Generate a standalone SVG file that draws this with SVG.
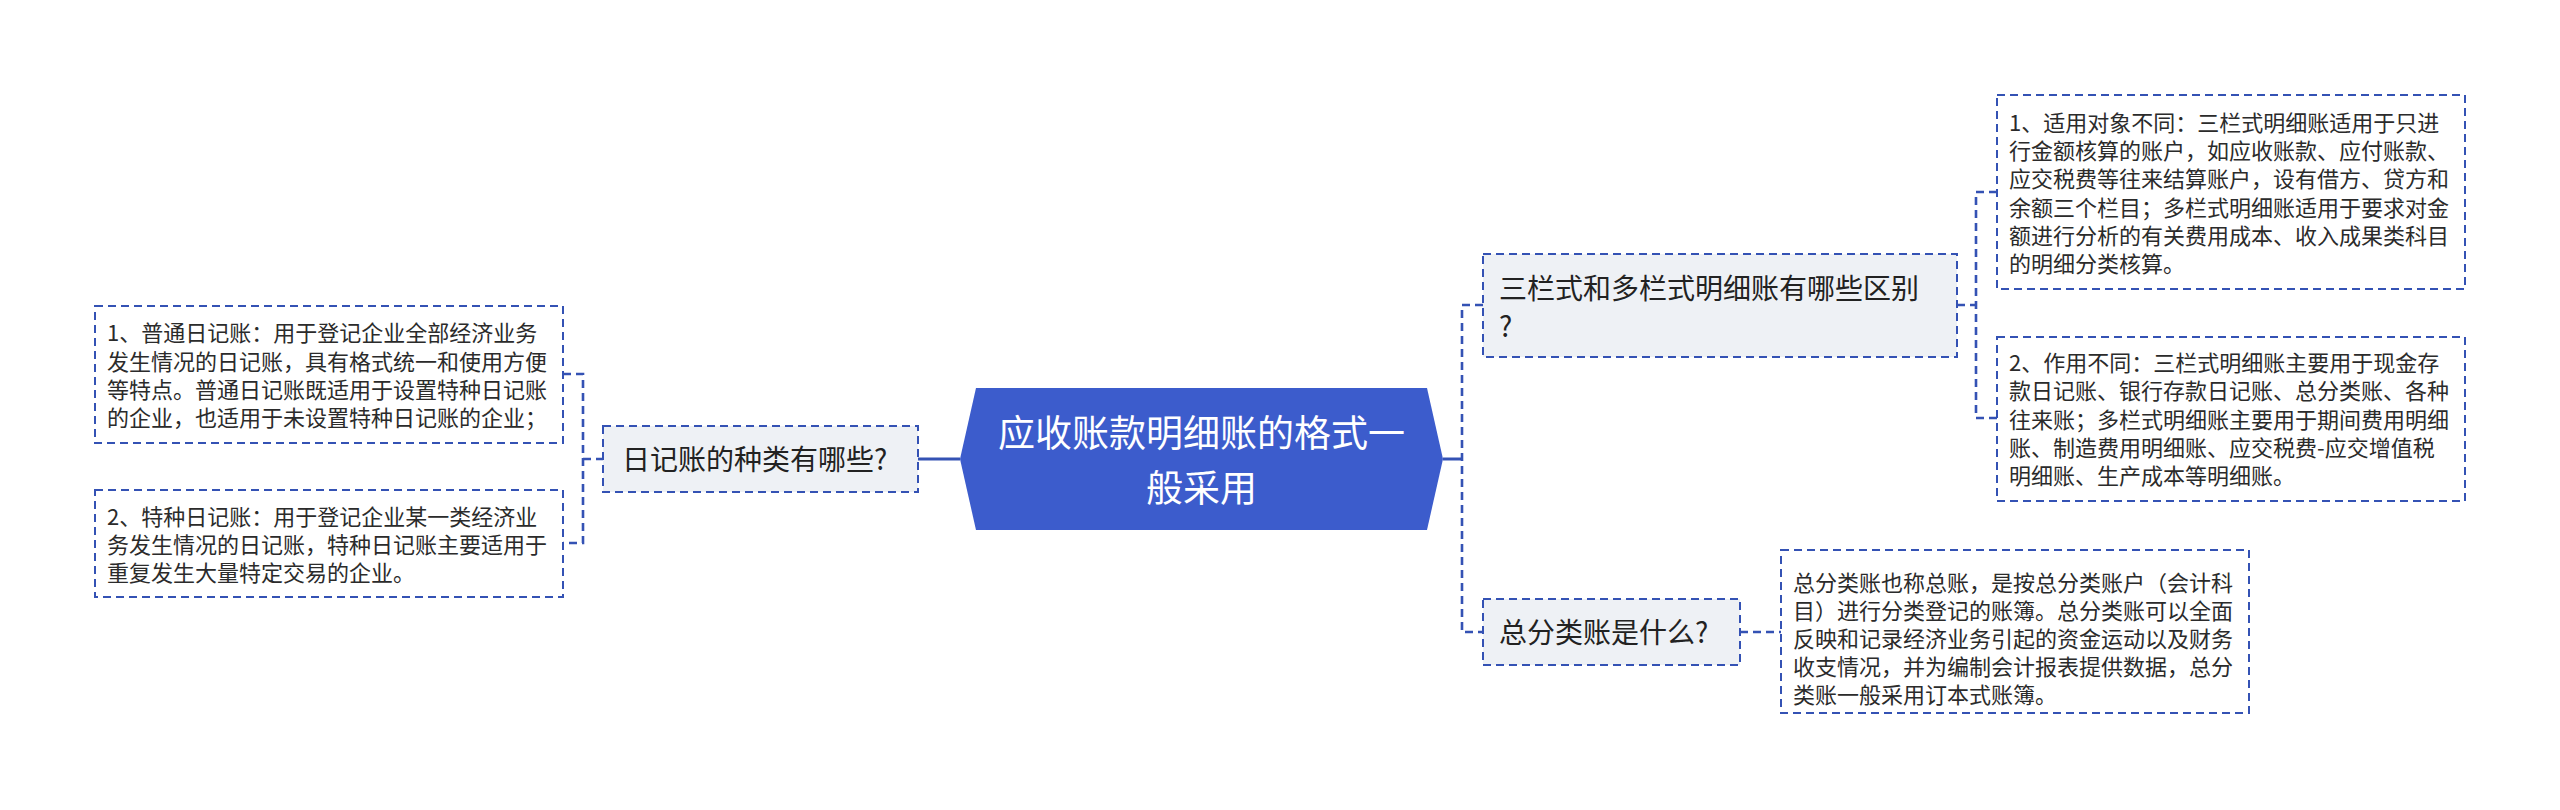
<svg xmlns="http://www.w3.org/2000/svg" width="2560" height="810" viewBox="0 0 2560 810">
<style>
.bg{fill:#ffffff}
.conn{fill:none;stroke:#3452b4;stroke-width:2.6;stroke-dasharray:8 5}
.solid{fill:none;stroke:#3452b4;stroke-width:3}
.node{fill:#eef1f5;stroke:#3452b4;stroke-width:2;stroke-dasharray:8 5}
.box{fill:#ffffff;stroke:#3452b4;stroke-width:2;stroke-dasharray:8 5}
.root{fill:#3c5ccc}
.t22{font-family:"Noto Sans CJK SC","Noto Sans",sans-serif;font-size:22px;fill:#2b2b2b}
.t28{font-family:"Noto Sans CJK SC","Noto Sans",sans-serif;font-size:28px;fill:#222222}
.t38{font-family:"Noto Sans CJK SC","Noto Sans",sans-serif;font-size:37px;fill:#ffffff;text-anchor:middle}
</style>
<rect class="bg" x="0" y="0" width="2560" height="810"/>
<g id="connectors">
<path class="conn" d="M563 374 H583 V543 H563 M583 459 H603"/>
<path class="solid" d="M918 459 H960"/>
<path class="solid" d="M1443 459 H1462"/>
<path class="conn" d="M1483 305 H1462 V632 H1483"/>
<path class="conn" d="M1957 305 H1976 M1997 192 H1976 V418 H1997"/>
<path class="conn" d="M1740 632 H1781"/>
</g>
<g id="root">
<polygon class="root" points="976,388 1427,388 1443,459 1427,530 976,530 960,459"/>
<text class="t38" x="1201.5" y="447.1">应收账款明细账的格式一</text>
<text class="t38" x="1201.5" y="501.6">般采用</text>
</g>
<g id="n-rijizhang">
<rect class="node" x="603" y="426" width="315" height="66"/>
<text class="t28" x="622" y="469.6">日记账的种类有哪些?</text>
</g>
<g id="n-rijizhang-1">
<rect class="box" x="95" y="306" width="468" height="137"/>
<text class="t22" x="107" y="341.4">1、普通日记账：用于登记企业全部经济业务</text>
<text class="t22" x="107" y="369.7">发生情况的日记账，具有格式统一和使用方便</text>
<text class="t22" x="107" y="398">等特点。普通日记账既适用于设置特种日记账</text>
<text class="t22" x="107" y="426.4">的企业，也适用于未设置特种日记账的企业；</text>
</g>
<g id="n-rijizhang-2">
<rect class="box" x="95" y="490" width="468" height="107"/>
<text class="t22" x="107" y="525.4">2、特种日记账：用于登记企业某一类经济业</text>
<text class="t22" x="107" y="553.4">务发生情况的日记账，特种日记账主要适用于</text>
<text class="t22" x="107" y="581.4">重复发生大量特定交易的企业。</text>
</g>
<g id="n-sanlan">
<rect class="node" x="1483" y="254" width="474" height="103"/>
<text class="t28" x="1499" y="298.6">三栏式和多栏式明细账有哪些区别</text>
<text class="t28" x="1499" y="336.6">?</text>
</g>
<g id="n-sanlan-1">
<rect class="box" x="1997" y="95" width="468" height="194"/>
<text class="t22" x="2009" y="130.9">1、适用对象不同：三栏式明细账适用于只进</text>
<text class="t22" x="2009" y="159.1">行金额核算的账户，如应收账款、应付账款、</text>
<text class="t22" x="2009" y="187.3">应交税费等往来结算账户，设有借方、贷方和</text>
<text class="t22" x="2009" y="215.5">余额三个栏目；多栏式明细账适用于要求对金</text>
<text class="t22" x="2009" y="243.7">额进行分析的有关费用成本、收入成果类科目</text>
<text class="t22" x="2009" y="271.9">的明细分类核算。</text>
</g>
<g id="n-sanlan-2">
<rect class="box" x="1997" y="337" width="468" height="164"/>
<text class="t22" x="2009" y="371.1">2、作用不同：三栏式明细账主要用于现金存</text>
<text class="t22" x="2009" y="399.3">款日记账、银行存款日记账、总分类账、各种</text>
<text class="t22" x="2009" y="427.5">往来账；多栏式明细账主要用于期间费用明细</text>
<text class="t22" x="2009" y="455.7">账、制造费用明细账、应交税费-应交增值税</text>
<text class="t22" x="2009" y="483.9">明细账、生产成本等明细账。</text>
</g>
<g id="n-zongfenlei">
<rect class="node" x="1483" y="599" width="257" height="66"/>
<text class="t28" x="1499" y="642.6">总分类账是什么?</text>
</g>
<g id="n-zongfenlei-1">
<rect class="box" x="1781" y="550" width="468" height="163"/>
<text class="t22" x="1793" y="591.4">总分类账也称总账，是按总分类账户（会计科</text>
<text class="t22" x="1793" y="619.4">目）进行分类登记的账簿。总分类账可以全面</text>
<text class="t22" x="1793" y="647.4">反映和记录经济业务引起的资金运动以及财务</text>
<text class="t22" x="1793" y="675.4">收支情况，并为编制会计报表提供数据，总分</text>
<text class="t22" x="1793" y="703.4">类账一般采用订本式账簿。</text>
</g>
</svg>
